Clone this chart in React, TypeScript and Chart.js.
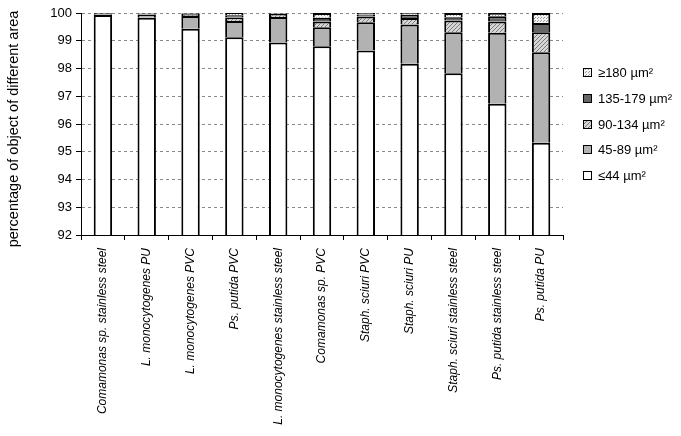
import React, { useEffect, useRef } from "react";
import { Chart, registerables } from "chart.js";

Chart.register(...registerables);

const categories = [
  "Comamonas sp. stainless steel",
  "L. monocytogenes PU",
  "L. monocytogenes PVC",
  "Ps. putida PVC",
  "L. monocytogenes stainless steel",
  "Comamonas sp. PVC",
  "Staph. sciuri PVC",
  "Staph. sciuri PU",
  "Staph. sciuri stainless steel",
  "Ps. putida stainless steel",
  "Ps. putida PU",
];

const seriesLabels = ["≤44 µm²", "45-89 µm²", "90-134 µm²", "135-179 µm²", "≥180 µm²"];

const upTo44 = [99.93, 99.83, 99.43, 99.13, 98.94, 98.8, 98.65, 98.17, 97.83, 96.73, 95.32];
const from45to89 = [0.02, 0.12, 0.46, 0.58, 0.92, 0.69, 1.02, 1.42, 1.48, 2.56, 3.27];
const from90to134 = [0.01, 0.02, 0.04, 0.13, 0.1, 0.2, 0.2, 0.23, 0.42, 0.4, 0.72];
const from135to179 = [0.03, 0.02, 0.05, 0.08, 0.02, 0.14, 0.08, 0.12, 0.12, 0.19, 0.33];
const from180 = [0.01, 0.01, 0.02, 0.08, 0.02, 0.17, 0.05, 0.06, 0.15, 0.12, 0.36];

const yMin = 92;
const yMax = 100;
const yTitle = "percentage of object of different area";

const FONT = '"Liberation Sans", Arial, sans-serif';

function makeHatch(): CanvasPattern | string {
  const c = document.createElement("canvas");
  c.width = 4;
  c.height = 4;
  const g = c.getContext("2d");
  if (!g) return "#cccccc";
  g.fillStyle = "#d6d6d6";
  g.fillRect(0, 0, 4, 4);
  g.strokeStyle = "#7a7a7a";
  g.lineWidth = 1;
  g.beginPath();
  g.moveTo(-1, 5);
  g.lineTo(5, -1);
  g.moveTo(-1, 1);
  g.lineTo(1, -1);
  g.moveTo(3, 5);
  g.lineTo(5, 3);
  g.stroke();
  return g.createPattern(c, "repeat") || "#cccccc";
}

function makeDots(): CanvasPattern | string {
  const c = document.createElement("canvas");
  c.width = 3;
  c.height = 3;
  const g = c.getContext("2d");
  if (!g) return "#eeeeee";
  g.fillStyle = "#f4f4f4";
  g.fillRect(0, 0, 3, 3);
  g.fillStyle = "#9a9a9a";
  g.fillRect(0, 0, 1, 1);
  g.fillRect(1, 2, 1, 1);
  return g.createPattern(c, "repeat") || "#eeeeee";
}

const sidePlugin = {
  id: "sideLegend",
  afterDraw(chart: any) {
    const ctx = chart.ctx as CanvasRenderingContext2D;
    const ds = chart.data.datasets;
    const area = chart.chartArea;
    ctx.save();
    // y-axis title
    ctx.font = `14.5px ${FONT}`;
    ctx.fillStyle = "#000";
    ctx.textAlign = "center";
    ctx.textBaseline = "middle";
    ctx.save();
    ctx.translate(14, (area.top + area.bottom) / 2 + 5);
    ctx.rotate(-Math.PI / 2);
    ctx.fillText(yTitle, 0, 0);
    ctx.restore();
    // legend
    ctx.font = `13px ${FONT}`;
    ctx.textAlign = "left";
    const x = area.right + 20;
    const y0 = 72;
    const step = 25.8;
    for (let i = 0; i < ds.length; i++) {
      const d = ds[ds.length - 1 - i];
      const y = Math.round(y0 + i * step);
      ctx.fillStyle = d.backgroundColor;
      ctx.fillRect(x, y - 4, 9, 9);
      ctx.strokeStyle = "#000";
      ctx.lineWidth = 1;
      ctx.strokeRect(x + 0.5, y - 3.5, 8, 8);
      ctx.fillStyle = "#000";
      ctx.fillText(d.label, x + 15, y + 1);
    }
    ctx.restore();
  },
};

export default function App() {
  const ref = useRef<HTMLCanvasElement | null>(null);

  useEffect(() => {
    if (!ref.current) return;
    const hatch = makeHatch();
    const dots = makeDots();
    const fills: any[] = ["#ffffff", "#b2b2b2", hatch, "#666666", dots];
    const values = [upTo44, from45to89, from90to134, from135to179, from180];

    const chart = new Chart(ref.current, {
      type: "bar",
      data: {
        labels: categories,
        datasets: values.map((v, i) => ({
          label: seriesLabels[i],
          data: v,
          backgroundColor: fills[i],
          borderColor: "#000",
          borderWidth: 2,
          barPercentage: 0.42,
          categoryPercentage: 1,
        })),
      },
      options: {
        animation: false,
        responsive: false,
        devicePixelRatio: 1,
        layout: { padding: { top: 13, right: 118, left: 0, bottom: 0 } },
        plugins: {
          legend: { display: false },
          tooltip: { enabled: false },
        },
        scales: {
          x: {
            stacked: true,
            grid: {
              display: true,
              drawOnChartArea: false,
              drawTicks: true,
              tickLength: 5,
              color: "#000",
              offset: true,
            },
            border: { display: true, color: "#000", width: 1 },
            ticks: {
              autoSkip: false,
              minRotation: 90,
              maxRotation: 90,
              color: "#000",
              padding: 8,
              font: { family: FONT, size: 12, style: "italic" },
            },
            afterFit: (s: any) => {
              s.height = 201;
            },
          },
          y: {
            stacked: true,
            min: yMin,
            max: yMax,
            ticks: {
              stepSize: 1,
              color: "#000",
              padding: 4,
              font: { family: FONT, size: 13 },
            },
            grid: {
              color: (c: any) => (c.tick && c.tick.value === yMin ? "rgba(0,0,0,0)" : "#8a8a8a"),
              tickColor: "#000",
              tickLength: 5,
              lineWidth: 1,
            },
            border: { display: true, color: "#000", width: 1, dash: [3, 3] },
            title: { display: false },
            afterFit: (s: any) => {
              s.width = 81;
            },
          },
        },
      },
      plugins: [sidePlugin],
    });
    return () => chart.destroy();
  }, []);

  return (
    <div style={{ position: "fixed", left: 0, top: 0, width: 681, height: 436, background: "#fff" }}>
      <canvas ref={ref} width={681} height={436} style={{ display: "block" }} />
    </div>
  );
}
